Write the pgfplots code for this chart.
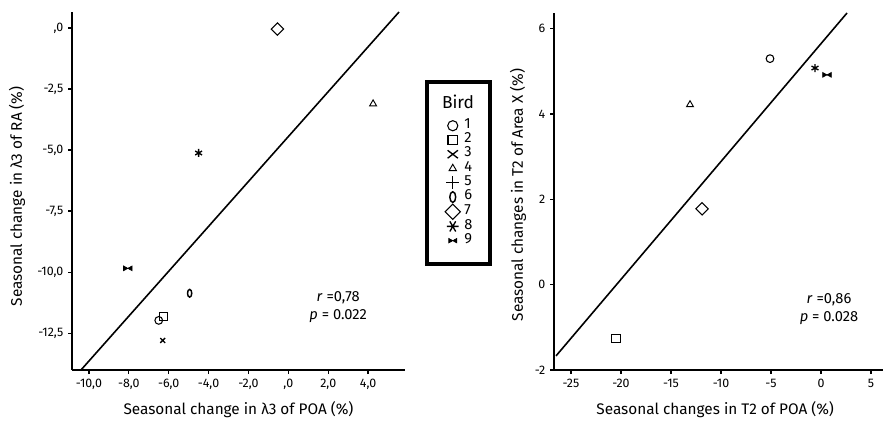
\documentclass[border=0pt]{standalone}
\usepackage{fontspec}
\setmainfont{Fira Sans}
\usepackage{pgfplots}
\pgfplotsset{compat=1.18}
\usetikzlibrary{plotmarks}

\pgfdeclareplotmark{oval}{%
  \pgfpathellipse{\pgfpointorigin}{\pgfqpoint{0.55\pgfplotmarksize}{0pt}}{\pgfqpoint{0pt}{\pgfplotmarksize}}%
  \pgfusepathqstroke}
\pgfdeclareplotmark{bowtie}{%
  \pgfpathmoveto{\pgfqpoint{-\pgfplotmarksize}{0.55\pgfplotmarksize}}%
  \pgfpathlineto{\pgfqpoint{\pgfplotmarksize}{-0.55\pgfplotmarksize}}%
  \pgfpathlineto{\pgfqpoint{\pgfplotmarksize}{0.55\pgfplotmarksize}}%
  \pgfpathlineto{\pgfqpoint{-\pgfplotmarksize}{-0.55\pgfplotmarksize}}%
  \pgfpathclose\pgfusepathqfillstroke}

\pgfplotsset{
  birdaxis/.style={
    scale only axis,
    axis x line*=bottom, axis y line*=left,
    axis line style={line width=1pt,-},
    tick align=outside, major tick length=3pt,
    major tick style={line width=1pt,black},
    tick label style={font=\fontsize{9.3}{11}\selectfont},
    label style={font=\fontsize{11.5}{13}\selectfont},
    clip=false,
  },
  b1/.style={only marks, mark=o, mark size=2.9pt, line width=0.8pt, black},
  b2/.style={only marks, mark=square, mark size=3.1pt, line width=0.8pt, black},
  b3/.style={only marks, mark=x, mark size=3.4pt, line width=1pt, black},
  b4/.style={only marks, mark=triangle, mark size=3pt, line width=0.7pt, black},
  b5/.style={only marks, mark=+, mark size=3pt, line width=0.8pt, black},
  b6/.style={only marks, mark=oval, mark size=3.3pt, line width=1.1pt, black},
  b7/.style={only marks, mark=square, mark options={rotate=45}, mark size=3.3pt, line width=0.8pt, black},
  b8/.style={only marks, mark=asterisk, mark size=3pt, line width=1pt, black},
  b9/.style={only marks, mark=bowtie, mark size=3.2pt, line width=0.5pt, black},
}

\begin{document}
\begin{tikzpicture}
\useasboundingbox (0,0) rectangle (669.75pt,316.5pt);

% ---------------- left panel ----------------
\begin{axis}[birdaxis,
  at={(54pt,39pt)}, anchor=south west,
  width=249.75pt, height=268.5pt,
  xmin=-10.85, xmax=5.85, ymin=-14.0, ymax=0.65,
  xtick={-10,-8,-6,-4,-2,0,2,4},
  xticklabels={{-10,0},{-8,0},{-6,0},{-4,0},{-2,0},{,0},{2,0},{4,0}},
  ytick={-12.5,-10,-7.5,-5,-2.5,0},
  yticklabels={{-12,5},{-10,0},{-7,5},{-5,0},{-2,5},{,0}},
  xlabel={Seasonal change in λ3 of POA (\%)},
  ylabel={Seasonal change in λ3 of RA (\%)},
  xlabel style={at={(axis description cs:0.5,-0.112)}, anchor=center},
  ylabel style={at={(axis description cs:-0.165,0.485)}, anchor=center},
  legend image code/.code={\draw[#1] plot coordinates {(0pt,0pt)};},
  legend style={at={(axis description cs:1.12,0.703)}, anchor=north west,
    draw=none, fill=none, inner sep=0pt, row sep=0pt,
    font=\fontsize{11}{11}\selectfont,
    nodes={inner sep=0pt, text height=7.4pt, text depth=3.3pt},
    /tikz/every odd column/.append style={column sep=3pt}},
  legend cell align=left,
]
\addplot[line width=1.2pt, black, forget plot] coordinates {(-10.4,-14.0) (5.55,0.65)};
\addplot[b1, forget plot] coordinates {(-6.5,-11.97)};
\addplot[b2, forget plot] coordinates {(-6.25,-11.8)};
\addplot[b3, mark size=2.6pt, forget plot] coordinates {(-6.3,-12.79)};
\addplot[b4, forget plot] coordinates {(4.25,-3.11)};
\addplot[b6, mark size=2.9pt, forget plot] coordinates {(-4.95,-10.86)};
\addplot[b7, forget plot] coordinates {(-0.55,-0.05)};
\addplot[b8, forget plot] coordinates {(-4.5,-5.12)};
\addplot[b9, forget plot] coordinates {(-8.05,-9.84)};
\node[align=center, font=\fontsize{11}{13.5}\selectfont] at (axis cs:2.5,-11.43) {\textit{r} =0,78\\\textit{p} = 0.022};

\addlegendimage{b1, mark size=3.8pt}\addlegendentry{1}
\addlegendimage{b2, mark size=3.6pt}\addlegendentry{2}
\addlegendimage{b3, mark size=4.2pt, mark options={xscale=1.3}}\addlegendentry{3}
\addlegendimage{b4, mark size=3.2pt}\addlegendentry{4}
\addlegendimage{b5, mark size=4.8pt}\addlegendentry{5}
\addlegendimage{b6, mark size=4pt}\addlegendentry{6}
\addlegendimage{b7, mark size=4pt}\addlegendentry{7}
\addlegendimage{b8, mark size=4.4pt, mark options={rotate=90}}\addlegendentry{8}
\addlegendimage{b9, mark size=3pt}\addlegendentry{9}
\end{axis}

% ---------------- right panel ----------------
\begin{axis}[birdaxis,
  at={(415.5pt,39pt)}, anchor=south west,
  width=246.75pt, height=267.75pt,
  xmin=-26.7, xmax=6.2, ymin=-2, ymax=6.37,
  xtick={-25,-20,-15,-10,-5,0,5},
  xticklabels={-25,-20,-15,-10,-5,0,5},
  ytick={-2,0,2,4,6},
  yticklabels={-2,0,2,4,6},
  xlabel={Seasonal changes in T2 of POA (\%)},
  ylabel={Seasonal changes in T2 of Area X (\%)},
  xlabel style={at={(axis description cs:0.49,-0.112)}, anchor=center},
  ylabel style={at={(axis description cs:-0.109,0.49)}, anchor=center},
]
\addplot[line width=1.2pt, black] coordinates {(-26.5,-1.67) (2.6,6.37)};
\addplot[b1] coordinates {(-5.1,5.3)};
\addplot[b2] coordinates {(-20.5,-1.26)};
\addplot[b4] coordinates {(-13.1,4.22)};
\addplot[b7] coordinates {(-11.9,1.78)};
\addplot[b8] coordinates {(-0.6,5.08)};
\addplot[b9] coordinates {(0.6,4.92)};
\node[align=center, font=\fontsize{11}{13.5}\selectfont] at (axis cs:0.8,-0.58) {\textit{r} =0,86\\\textit{p} = 0.028};
\end{axis}

% legend frame and title
\draw[line width=2.6pt] (320.25pt,255pt) rectangle (367.5pt,118.5pt);
\node[font=\fontsize{13}{13}\selectfont] at (343.5pt,240pt) {Bird};
\end{tikzpicture}
\end{document}
